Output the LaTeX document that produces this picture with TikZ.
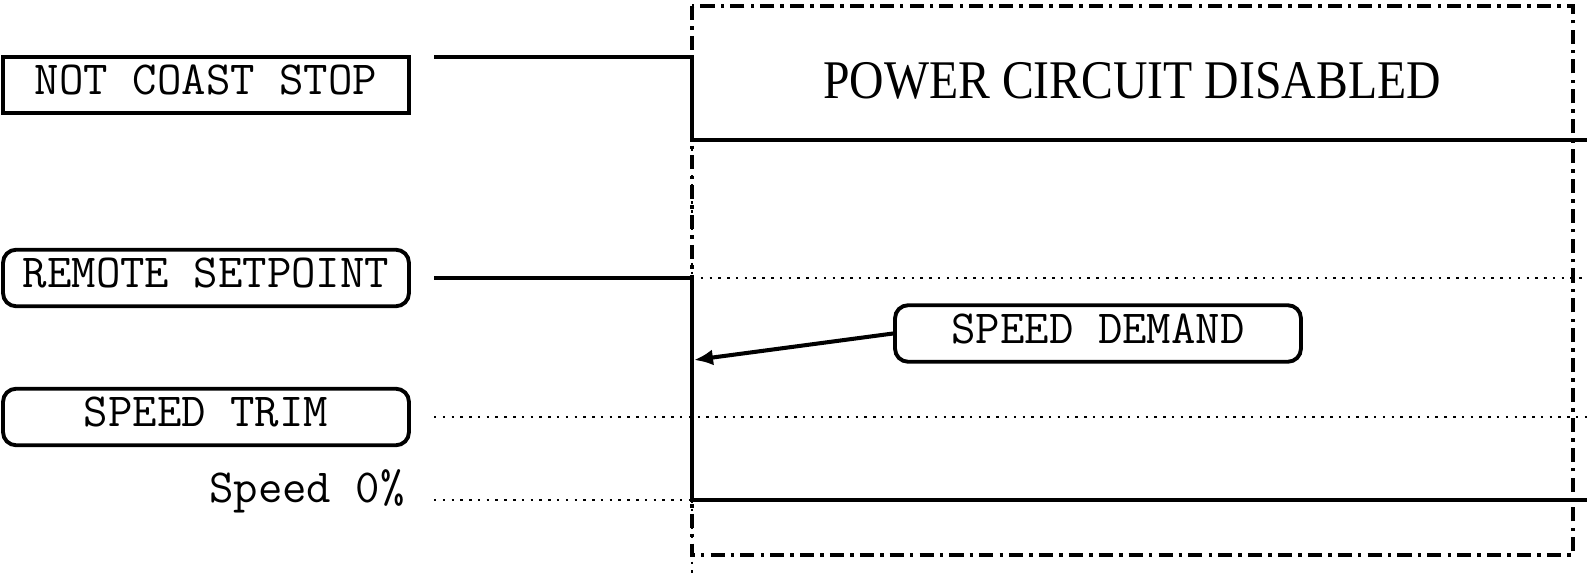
\documentclass[tikz,border=0pt]{standalone}
\usepackage{fontspec}
\newfontfamily\titlefont{Liberation Serif}
\usetikzlibrary{arrows.meta}

\begin{document}
\begin{tikzpicture}[x=0.02cm, y=-0.02cm,
    sigbox/.style={draw, line width=2.2pt, minimum width=8.12cm, minimum height=1.13cm,
        inner sep=0pt, text depth=0.2cm, font=\ttfamily\fontsize{27}{31}\selectfont},
    roundbox/.style={sigbox, rounded corners=0.26cm},
    sigline/.style={line width=2.3pt},
    dotline/.style={line width=1.2pt, dash pattern=on 1.4pt off 3.6pt}]

        \useasboundingbox (0,0) rectangle (1587,577);

        % signal names
        \node[sigbox] (coast) at (206,85) {NOT COAST STOP};
        \node[roundbox] (remote) at (206,278) {REMOTE SETPOINT};
        \node[roundbox] (trim) at (206,417) {SPEED TRIM};
        \node[anchor=base east, inner sep=0pt, font=\ttfamily\fontsize{27}{31}\selectfont] (zero) at (405,503) {Speed 0\%};

        % trace points
        \coordinate (coast_a) at (434,57);
        \coordinate (coast_b) at (692,57);
        \coordinate (coast_c) at (692,140);
        \coordinate (coast_d) at (1587,140);
        \coordinate (remote_a) at (434,278);
        \coordinate (remote_b) at (692,278);
        \coordinate (remote_c) at (692,500);
        \coordinate (remote_d) at (1587,500);
        \coordinate (remote_e) at (1587,278);
        \coordinate (trim_a) at (434,417);
        \coordinate (trim_b) at (1587,417);
        \coordinate (zero_a) at (434,500);
        \coordinate (mark_top) at (692,140);
        \coordinate (mark_bot) at (692,577);
        \coordinate (demand_tip) at (694,360);

        % state window
        \draw[line width=1.8pt, dash pattern=on 8pt off 3.5pt on 2pt off 3.5pt] (692,6) rectangle (1573,555);
        \node[font=\titlefont\fontsize{31}{36}\selectfont] (title) at (1132,81)
            {\scalebox{0.876}[1]{POWER CIRCUIT DISABLED}};

        % traces
        \draw[sigline] (coast_a) -- (coast_b) -- (coast_c) -- (coast_d);
        \draw[sigline] (remote_a) -- (remote_b) -- (remote_c) -- (remote_d);
        \draw[dotline] (remote_b) -- (remote_e);
        \draw[dotline] (trim_a) -- (trim_b);
        \draw[dotline] (zero_a) -- (remote_c);
        \draw[dotline] (mark_top) -- (mark_bot);

        \node[roundbox] (demand) at (1098,333.5) {SPEED DEMAND};
        \draw[sigline, -{Latex[length=0.38cm, width=0.32cm]}] (demand.west) -- (demand_tip);

\end{tikzpicture}
\end{document}
